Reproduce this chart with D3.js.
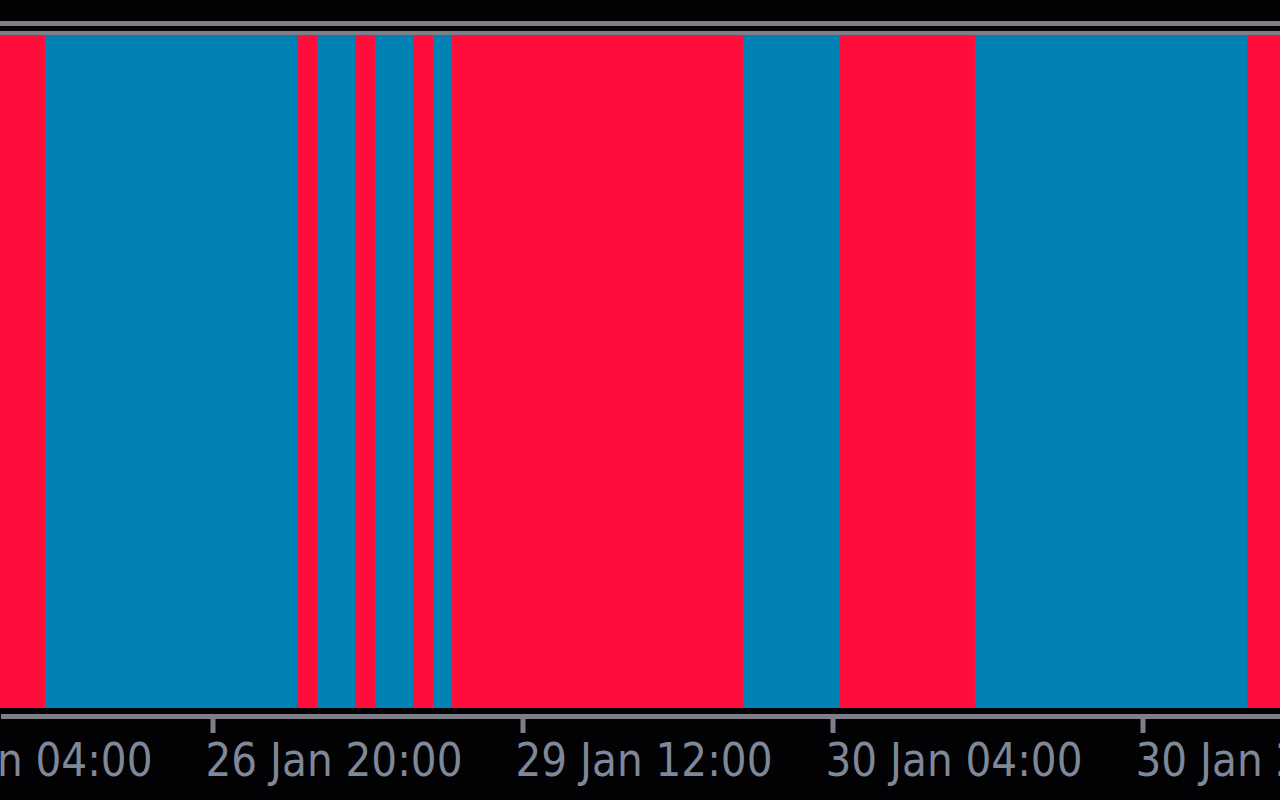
<!DOCTYPE html>
<html><head><meta charset="utf-8">
<script src="https://cdn.jsdelivr.net/npm/d3@7"></script>
<style>html,body{margin:0;padding:0;background:#020204;overflow:hidden}</style>
</head><body><svg id="c" width="1280" height="800"></svg>
<script>
// Hourly bars, index 0 = 26 Jan 20:00 (weekend hours skipped)
const firstBar = -11;
// 1 = up (blue), -1 = down (red)
const signal = [
  -1,-1,-1,
  1,1,1,1,1,1,1,1,1,1,1,1,1,
  -1,
  1,1,
  -1,
  1,1,
  -1,
  1,
  -1,-1,-1,-1,-1,-1,-1,-1,-1,-1,-1,-1,-1,-1,-1,
  1,1,1,1,1,
  -1,-1,-1,-1,-1,-1,-1,
  1,1,1,1,1,1,1,1,1,1,1,1,1,1,
  -1,-1
];
const tickBars = [-16, 0, 16, 32, 48];
const tickLabels = ["26 Jan 04:00", "26 Jan 20:00", "29 Jan 12:00", "30 Jan 04:00", "30 Jan 20:00"];

const W = 1280, H = 800;
const plotTop = 35, plotBottom = 708;
const RED = "#ff0d3b", BLUE = "#0082b4", GRAY = "#7e7f88";

const svg = d3.select("#c");
svg.append("rect").attr("width", W).attr("height", H).attr("fill", "#020204");

const xs0 = d3.scaleLinear().domain([0, 16]).range([212.5, 522.5]);
const xs = d3.scaleLinear().domain([xs0.invert(0), xs0.invert(W)]).range([0, W]);
const ys = d3.scaleLinear().domain([0, 1]).range([plotBottom, plotTop]);

const bars = signal.map((v, i) => ({k: firstBar + i, v}));

svg.append("g").selectAll("rect").data(bars).join("rect")
  .attr("x", d => Math.round(xs(d.k - 0.63)))
  .attr("width", d => Math.round(xs(d.k + 0.37)) - Math.round(xs(d.k - 0.63)))
  .attr("y", ys(1))
  .attr("height", ys(0) - ys(1))
  .attr("fill", d => d.v > 0 ? BLUE : RED)
  .attr("shape-rendering", "crispEdges");

// top frame lines
svg.append("rect").attr("x", 0).attr("y", 21).attr("width", W).attr("height", 5).attr("fill", GRAY);
svg.append("rect").attr("x", 0).attr("y", 31).attr("width", W).attr("height", 4).attr("fill", GRAY);

// bottom axis
const axis = d3.axisBottom(xs)
  .tickValues(tickBars)
  .tickFormat((d, i) => tickLabels[i])
  .tickSize(15)
  .tickSizeOuter(0);

const ag = svg.append("g").attr("transform", "translate(0,715.5)").call(axis);
ag.select(".domain").attr("stroke", GRAY).attr("stroke-width", 5).attr("shape-rendering", "crispEdges");
ag.selectAll(".tick line").attr("stroke", GRAY).attr("stroke-width", 5)
  .attr("y1", 2.5).attr("y2", 17.5);
ag.selectAll(".tick text")
  .attr("fill", "#7f8898")
  .attr("font-family", "'DejaVu Sans', sans-serif")
  .attr("font-size", 46)
  .attr("text-anchor", "start")
  .attr("x", -7.5)
  .attr("y", 60.5)
  .attr("dy", null)
  .attr("textLength", 257)
  .attr("lengthAdjust", "spacingAndGlyphs");
</script></body></html>
